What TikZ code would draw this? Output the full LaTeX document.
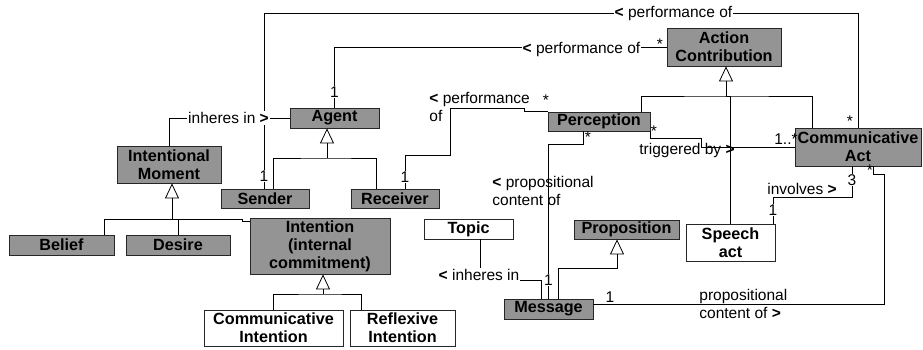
\documentclass[tikz,border=0pt]{standalone}
\usepackage{fontspec}
\setmainfont{Liberation Sans}
\usetikzlibrary{arrows.meta}
\definecolor{boxgray}{gray}{0.58}

\begin{document}
\begin{tikzpicture}[x=1pt,y=-1pt,line width=0.8pt,
  txt/.style={font=\fontsize{15.5}{18}\selectfont,inner sep=1pt},
  wtxt/.style={txt,fill=white},
  cls/.style={draw=black!85,fill=boxgray,font=\fontsize{16.2}{18}\selectfont\bfseries,align=center,inner sep=0pt},
  wcls/.style={cls,fill=white},
  gen/.style={-{Triangle[open,length=15pt,width=14pt]}}]
\useasboundingbox (0,0) rectangle (923,349);

\node[cls,minimum width=114,minimum height=38] (actcontr) at (724,47) {Action\\Contribution};
\node[cls,minimum width=89,minimum height=20] (agent) at (334.5,118) {Agent};
\node[cls,minimum width=104,minimum height=37] (intmom) at (169,164.5) {Intentional\\Moment};
\node[cls,minimum width=88,minimum height=19] (sender) at (265,198.5) {Sender};
\node[cls,minimum width=88,minimum height=19] (receiver) at (395,198.5) {Receiver};
\node[cls,minimum width=105,minimum height=20] (belief) at (61.5,245) {Belief};
\node[cls,minimum width=104,minimum height=20] (desire) at (178,245) {Desire};
\node[cls,minimum width=140,minimum height=56] (intention) at (320,246) {Intention\\(internal\\commitment)};
\node[wcls,minimum width=139,minimum height=36] (comint) at (273.5,328) {Communicative\\Intention};
\node[wcls,minimum width=105,minimum height=36] (refint) at (402.5,328) {Reflexive\\Intention};
\node[wcls,minimum width=89,minimum height=20] (topic) at (468.5,229) {Topic};
\node[cls,minimum width=105,minimum height=19] (proposition) at (626.5,229.5) {Proposition};
\node[wcls,minimum width=89,minimum height=37] (speech) at (730.5,242.5) {Speech\\act};
\node[cls,minimum width=89,minimum height=20] (message) at (548.5,309) {Message};
\node[cls,minimum width=102,minimum height=19] (perception) at (599,121.5) {Perception};
\node[cls,minimum width=126,minimum height=38] (commact) at (858,147) {Communicative\\Act};

\draw (sender.north -| 264,0) -- (264,13) -| (commact.north -| 858,0);
\draw (agent.north) |- (actcontr.west);
\draw (intmom.north) |- (agent.west);
\coordinate (agj) at (327,158);
\draw[gen] (agj) -- (agj |- agent.south);
\draw (sender.north -| 273,0) |- (agj) -| (receiver.north -| 376,0);
\draw (receiver.north -| 405,0) |- (450,155) |- (524,108) |- (perception.north west);
\coordinate (acj) at (726,96);
\draw[gen] (acj) -- (acj |- actcontr.south);
\draw (perception.north -| 641,0) |- (acj) -| (commact.north -| 812,0);
\draw (speech.north) |- (acj);
\draw (perception.south east) |- (701,138) |- (commact.west);
\draw (perception.south -| 583,0) -- ++(0,13) -| (message.north);
\draw (topic.south -| 480,0) |- (541,280) -- (message.north -| 541,0);
\draw[gen] (message.north -| 558,0) -- ++(0,-30) -| (proposition.south -| 617,0);
\draw (message.east |- 0,304) -| (884,174) -| (commact.south -| 873,0);
\draw (commact.south -| 852,0) -- ++(0,31) -| (speech.north -| 773,0);
\coordinate (imj) at (172,219);
\draw[gen] (imj) -- (imj |- intmom.south);
\draw (belief.north -| 104,0) |- (242,219) |- ([yshift=-4pt]intention.north west);
\draw (desire.north) -- (desire.north |- imj);
\coordinate (inj) at (323,294);
\draw[gen] (inj) -- (inj |- intention.south);
\draw (comint.north) |- (inj) -| (refint.north -| 361,0);

\node[wtxt] (lperf1) at (673.5,13) {\textbf{<} performance of};
\node[wtxt] (lperf2) at (581.5,49) {\textbf{<} performance of};
\node[txt] (mac) at (660,44) {*};
\node[wtxt] (mag) at (334.5,92) {1};
\node[wtxt] (linh1) at (228.5,118) {inheres in \textbf{>}};
\node[wtxt] (msd) at (264,176) {1};
\node[wtxt] (mrc) at (405,177) {1};
\node[txt,anchor=west,align=left] (lperf3) at (428,107) {\textbf{<} performance\\of};
\node[txt] (mpc1) at (546,100) {*};
\node[txt] (mpc2) at (588,137) {*};
\node[txt] (mpc3) at (654,131) {*};
\node[txt] (ltrig) at (687,150) {triggered by \textbf{>}};
\node[txt] (mca1) at (786,139) {1..*};
\node[txt] (mca2) at (850,121) {*};
\node[txt,anchor=west,align=left] (lprop1) at (491,191) {\textbf{<} propositional\\content of};
\node[wtxt] (mms1) at (548.5,280) {1};
\node[wtxt] (linh2) at (479,275) {\textbf{<} inheres in};
\node[txt,anchor=west,align=left] (lprop2) at (698,304) {propositional\\content of \textbf{>}};
\node[txt] (mms2) at (610,297) {1};
\node[txt] (mca3) at (870,170) {*};
\node[wtxt] (mca4) at (852,180) {3};
\node[txt] (linv) at (802,189) {involves \textbf{>}};
\node[wtxt] (msp) at (773,210) {1};
\end{tikzpicture}
\end{document}
